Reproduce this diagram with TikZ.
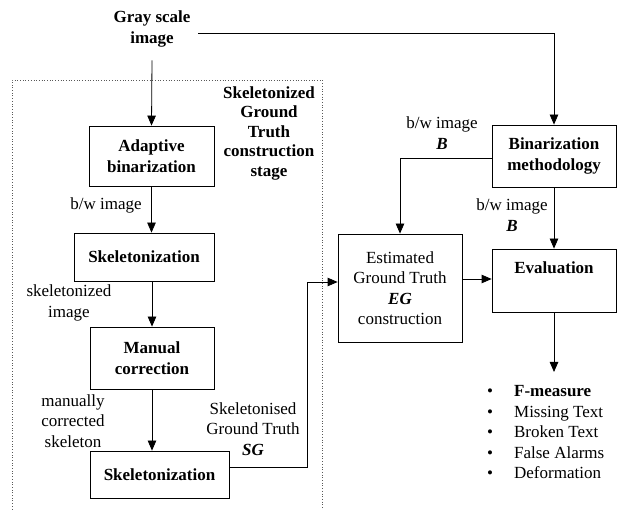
\documentclass[tikz,border=0pt]{standalone}
\usepackage{fontspec}
\setmainfont{Liberation Serif}
\newfontfamily\lserif{Liberation Serif}
\usetikzlibrary{arrows.meta,calc}
\begin{document}
\begin{tikzpicture}[x=1pt,y=-1pt,
  every node/.style={font=\lserif\fontsize{17}{20.5}\selectfont, align=center, inner sep=0pt},
  box/.style={draw, line width=0.8pt, font=\lserif\fontsize{17}{20.5}\selectfont\bfseries},
  plainbox/.style={draw, line width=0.8pt},
  arr/.style={line width=0.8pt, -{Triangle[length=10pt,width=8.5pt]}}
]
\useasboundingbox (0,0) rectangle (619,510);
\fill[white] (0,0) rectangle (619,510);
% dotted stage box
\draw[dotted, gray!70!black, line width=0.7pt] (12,512) -- (12,80) -- (322,80) -- (322,512);

\node[font=\lserif\fontsize{17}{21}\selectfont\bfseries] (gray) at (152,29) {Gray scale\\image};
\node[font=\lserif\fontsize{17}{19.5}\selectfont\bfseries] (stage) at (269,133) {Skeletonized\\Ground\\Truth\\construction\\stage};

\node[box, minimum width=125pt, minimum height=60pt] (adapt) at (151.5,156) {Adaptive\\binarization};
\node[box, minimum width=140pt, minimum height=48pt] (skel1) at (144,257) {Skeletonization};
\node[box, minimum width=124pt, minimum height=62pt] (manual) at (152,358) {Manual\\correction};
\node[box, minimum width=139pt, minimum height=47pt] (skel2) at (159.5,474.5) {Skeletonization};
\node[box, minimum width=124pt, minimum height=62pt] (bin) at (554,156) {Binarization\\methodology};
\node[plainbox, minimum width=124pt, minimum height=108pt] (eg) at (400,288) {Estimated\\Ground Truth\\\textbf{\textit{EG}}\\construction};
\node[box, minimum width=124pt, minimum height=63pt] (eval) at (554,280.5) {Evaluation\\\strut};

% labels
\node (lbw1) at (106,205) {b/w image};
\node (lskel) at (69,303) {skeletonized\\image};
\node (lman) at (73,421) {manually\\corrected\\skeleton};
\node (lsg) at (253,429) {Skeletonised\\Ground Truth\\\textbf{\textit{SG}}};
\node (lbw2) at (442,133) {b/w image\\\textbf{\textit{B}}};
\node (lbw3) at (512,215) {b/w image\\\textbf{\textit{B}}};

% connectors
\coordinate (gtap) at (198,33);
\draw[arr] (gtap) -| (bin.north);
\draw[arr] ([yshift=-13pt]gray.south) -- (adapt.north);
\draw[arr] (adapt.south) -- (adapt.south |- skel1.north);
\draw[arr] (manual.north |- skel1.south) -- (manual.north);
\draw[arr] (manual.south) -- (manual.south |- skel2.north);
\coordinate (sgx) at (307,282);
\draw[arr] ([yshift=7.5pt]skel2.east) -| (sgx) -- (sgx -| eg.west);
\draw[arr] ([yshift=-2pt]bin.west) -| (eg.north);
\draw[arr] (bin.south) -- (eval.north);
\draw[arr] ([yshift=1.5pt]eval.west -| eg.east) -- ([yshift=1.5pt]eval.west);
\coordinate (evend) at (554,372);
\draw[arr] (eval.south) -- (evend);

% result list
\node[anchor=north west] (list) at (487,382) {%
\def\arraystretch{1.0}\setlength{\tabcolsep}{0pt}%
\begin{tabular}{@{}l@{\hspace{21pt}}l@{}}
\textbullet & \textbf{F-measure}\\
\textbullet & Missing Text\\
\textbullet & Broken Text\\
\textbullet & False Alarms\\
\textbullet & Deformation
\end{tabular}};
\end{tikzpicture}
\end{document}
